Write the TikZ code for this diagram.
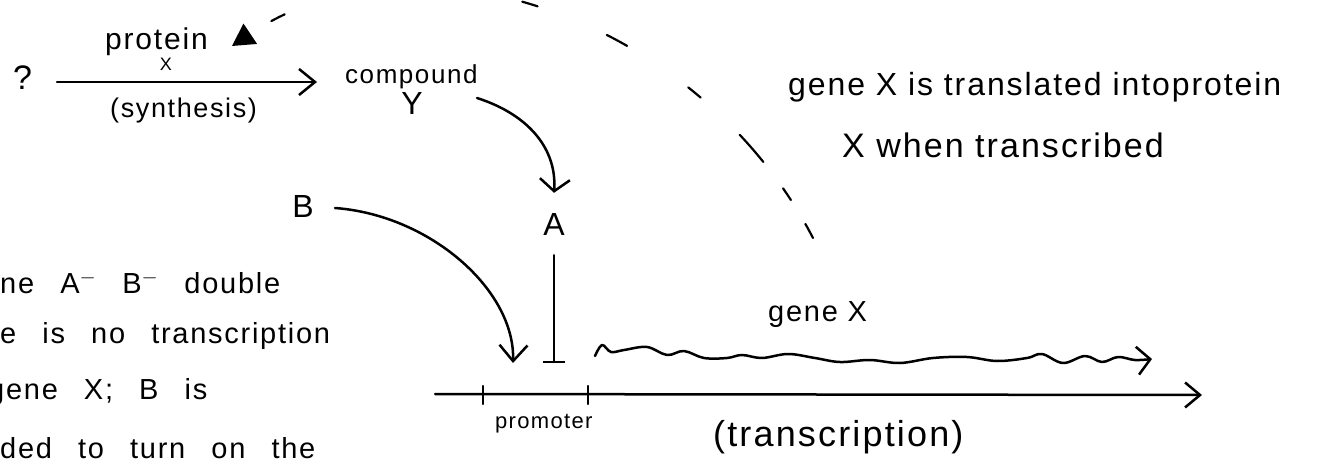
\documentclass[tikz,border=0pt]{standalone}
\usepackage{fontspec}
\setmainfont{Liberation Sans}[LetterSpace=6.0]
\usetikzlibrary{arrows.meta}
\newcommand\hsz[1]{\fontsize{#1}{#1}\selectfont}
\newcommand\widesp{\spaceskip=0.9em\relax}
\begin{document}
\begin{tikzpicture}[x=1pt,y=-1pt,
  hand/.style={line width=2.5pt, line cap=round, line join=round},
  txt/.style={inner sep=0pt, anchor=base west},
  ctxt/.style={inner sep=0pt, anchor=base},
  lfont/.style={font=\hsz{29}}
]
\useasboundingbox (0,0) rectangle (1319,473);

% texts
\node[txt,font=\hsz{34}] (q) at (13,90) {?};
\node[txt,font=\hsz{30}] (prot) at (105,50) {protein};
\node[ctxt,font=\hsz{18}] (protx) at (166,71) {X};
\node[txt,font=\hsz{27}] (syn) at (110,118) {(synthesis)};
\node[txt,font=\hsz{26}] (cmp) at (345,84) {compound};
\node[ctxt,font=\hsz{32}] (Y) at (412,115) {Y};
\node[ctxt,font=\hsz{32}] (B) at (303,217) {B};
\node[ctxt,font=\hsz{32},inner xsep=0pt,inner ysep=20pt] (A) at (554,235) {A};
\node[txt,font=\hsz{29}] (gx) at (768,321) {gene X};
\node[txt,font=\hsz{22}] (prom) at (495,428) {promoter};
\node[txt,font=\hsz{36}] (trn) at (713,446) {(transcription)};
\node[txt,font=\hsz{32}] (n1) at (788,96) {gene X is translated intoprotein};
\node[txt,font=\hsz{34}] (n2) at (842,158) {X when transcribed};
\node[txt,lfont] (l1) at (0,293) {\widesp ne A$^{-}$ B$^{-}$ double};
\node[txt,lfont] (l2) at (0,343) {\widesp e is no transcription};
\node[txt,lfont] (l3) at (-12,399) {\widesp gene X; B is};
\node[txt,lfont] (l4) at (0,458) {\widesp ded to turn on the};

% free ends
\coordinate (s0) at (57,82);
\coordinate (s1) at (317,82);
\coordinate (ya0) at (477,98);
\coordinate (b0) at (335,208);
\coordinate (bT) at (513,363);
\coordinate (aB) at (554,363);
\coordinate (bl0) at (435,394);
\coordinate (bl1) at (1202,395);
\coordinate (dS) at (813,238);
\coordinate (dE) at (232,46);

% synthesis arrow
\draw[hand,-{Straight Barb[length=16pt,width=26pt]}] (s0) -- (s1);
% Y -> A
\draw[hand,-{Straight Barb[length=12pt,width=30pt]}] (ya0) .. controls (530,115) and (557,150) .. (A.north);
% B -> promoter
\draw[hand,-{Straight Barb[length=16pt,width=28pt]}] (b0) .. controls (430,215) and (515,290) .. (bT);
% A inhibits
\draw[hand,-{Bar[width=22pt]}] (A.south) -- (aB);
% DNA line with ticks
\draw[hand,-{Straight Barb[length=15pt,width=25pt]}] (bl0) -- (bl1);
\draw[hand] (483,386) -- (483,404);
\draw[hand] (588,386) -- (588,404);
% wavy gene X
\draw[hand,-{Straight Barb[length=13pt,width=28pt]}] plot[smooth,tension=0.6] coordinates {
 (595,356) (602,345) (611,352) (624,350) (647,347) (667,355) (684,351) (704,358)
 (727,358) (742,355) (762,358) (788,354) (815,358) (840,362) (870,360) (900,363)
 (933,358) (967,357) (997,361) (1027,358) (1042,354) (1063,363) (1085,356)
 (1102,362) (1118,357) (1135,360) (1152,359)};
% dashed arc gene X -> protein X
\draw[hand,line width=2.2pt,
  dash pattern=on 16pt off 28pt on 14pt off 33pt on 36pt off 54pt on 16pt off 74pt on 23pt off 75pt on 16pt off 174pt on 19pt off 50pt on 15pt off 50pt,
  -{Triangle[length=22pt,width=24pt]}] (dS) .. controls (700,20) and (420,-80) .. (dE);
\end{tikzpicture}
\end{document}
